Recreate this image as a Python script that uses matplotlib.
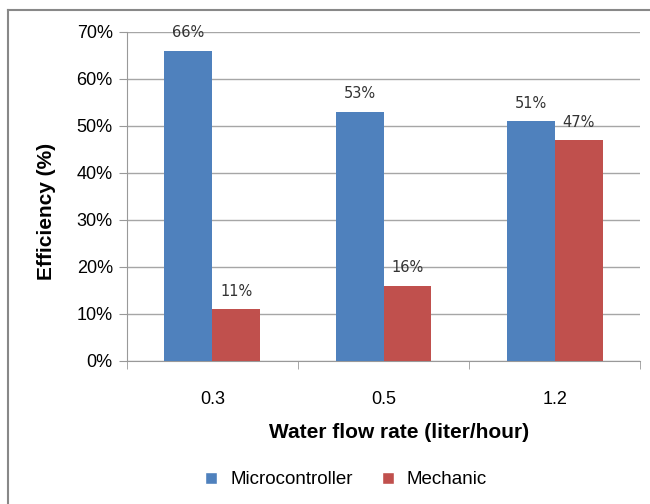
import matplotlib
matplotlib.use('Agg')

import numpy as np
import matplotlib.pyplot as plt
from matplotlib.lines import Line2D

categories = ["0.3", "0.5", "1.2"]
microcontroller = [66, 53, 51]
mechanic = [11, 16, 47]
series_names = ["Microcontroller", "Mechanic"]

blue = "#4F81BD"
red = "#C0504D"

plt.rcParams['font.family'] = ['Liberation Sans', 'DejaVu Sans']

fig = plt.figure(figsize=(6.5, 5.04), dpi=100)
ax = fig.add_axes([0.195, 0.284, 0.79, 0.653])

x = np.arange(len(categories))
w = 0.28
b1 = ax.bar(x - w/2, microcontroller, w, color=blue, label=series_names[0], zorder=3)
b2 = ax.bar(x + w/2, mechanic, w, color=red, label=series_names[1], zorder=3)

for bars, vals in [(b1, microcontroller), (b2, mechanic)]:
    for r, v in zip(bars, vals):
        ax.text(r.get_x() + r.get_width()/2, v + 2.2, f"{v}%", ha='center', va='bottom',
                fontsize=10.5, family='DejaVu Sans', color='#333333', zorder=4)

ax.set_ylim(0, 70)
ax.set_xlim(-0.5, 2.5)
ax.set_yticks(range(0, 71, 10))
ax.set_yticklabels([f"{v}%" for v in range(0, 71, 10)], fontsize=13)
ax.set_xticks(x)
ax.set_xticklabels(categories, fontsize=13)
ax.set_xticks([-0.5, 0.5, 1.5, 2.5], minor=True)
ax.tick_params(axis='x', which='major', length=0, pad=22)
ax.tick_params(axis='x', which='minor', length=6, color='#999999')
ax.tick_params(axis='y', length=6, color='#999999', pad=4)
ax.yaxis.grid(True, color='#A6A6A6', linewidth=1, zorder=0)
for s in ['top', 'right']:
    ax.spines[s].set_visible(False)
for s in ['left', 'bottom']:
    ax.spines[s].set_color('#999999')

ax.set_xlabel("Water flow rate (liter/hour)", fontsize=15, fontweight='bold')
ax.xaxis.set_label_coords(0.53, -0.19)
ax.set_ylabel("Efficiency (%)", fontsize=15, fontweight='bold')
ax.yaxis.set_label_coords(-0.138, 0.455)

handles = [Line2D([], [], marker='s', color='w', markerfacecolor=blue, markersize=9, linestyle=''),
           Line2D([], [], marker='s', color='w', markerfacecolor=red, markersize=9, linestyle='')]
fig.legend(handles, series_names, loc='center', bbox_to_anchor=(0.53, 0.048), ncol=2,
           frameon=False, fontsize=13.5, handlelength=1.0, handletextpad=0.5,
           columnspacing=1.4)

# outer frame (top and left)
fig.add_artist(Line2D([8/650, 1], [1 - 10/504, 1 - 10/504], color='#888888', linewidth=1.5))
fig.add_artist(Line2D([8/650, 8/650], [0, 1 - 10/504], color='#888888', linewidth=1.5))

plt.savefig("out.png", dpi=100)
